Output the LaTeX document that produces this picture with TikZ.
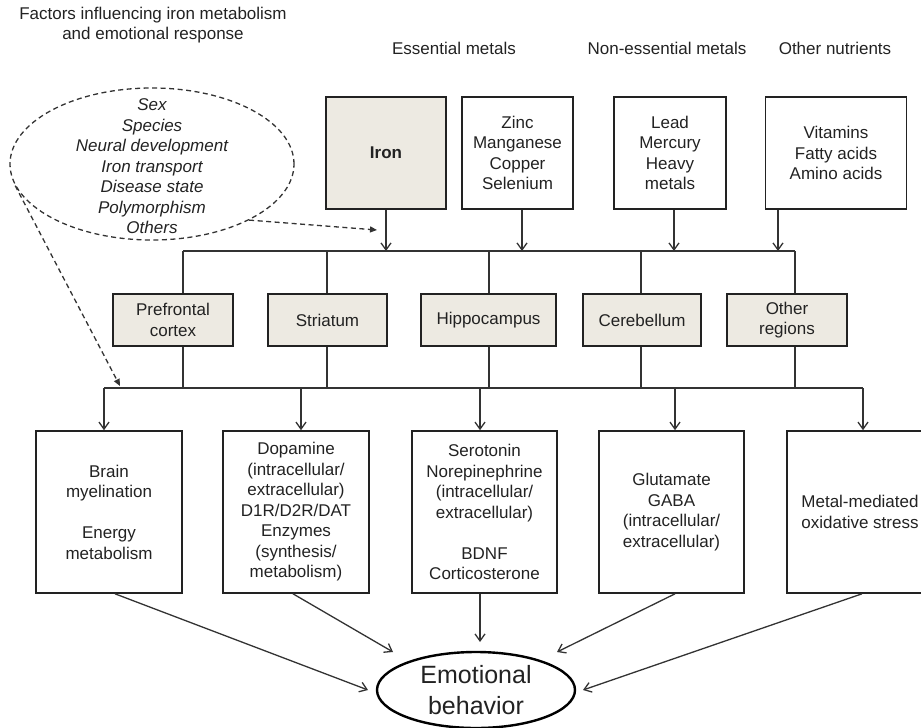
\documentclass[tikz,border=0pt]{standalone}
\usepackage{fontspec}
\setmainfont{Liberation Sans}
\usetikzlibrary{shapes.geometric,arrows.meta}
\definecolor{boxfill}{HTML}{EDEAE2}
\definecolor{ink}{HTML}{222222}
\definecolor{wirec}{HTML}{333333}
\begin{document}
\begin{tikzpicture}[x=1pt,y=-1pt,
  txt/.style={font=\fontsize{17}{20.5}\selectfont, text=ink, align=center},
  box/.style={txt, draw=ink, line width=1.6pt, rectangle, inner sep=0pt},
  shaded/.style={box, fill=boxfill},
  wire/.style={draw=wirec, line width=1.3pt},
  arr/.style={wire, -{Straight Barb[length=7pt,width=10pt]}},
  dasharrow/.style={wire, dash pattern=on 5pt off 3.5pt, -{Triangle[length=7pt,width=6pt]}}
]
\useasboundingbox (0,0) rectangle (921,728);

% titles
\node[txt] (title) at (153,25) {Factors influencing iron metabolism\\and emotional response};
\node[txt] (h1) at (454,48) {Essential metals};
\node[txt] (h2) at (667,48) {Non-essential metals};
\node[txt] (h3) at (835,48) {Other nutrients};

% factors ellipse
\node[draw=wirec, ellipse, line width=1.3pt, dash pattern=on 5pt off 3.5pt,
      minimum width=284pt, minimum height=152pt, inner sep=0pt] (fac) at (152,164) {};
\node[txt, font=\fontsize{17}{20.5}\selectfont\itshape] (factxt) at (152,166.5)
  {Sex\\Species\\Neural development\\Iron transport\\Disease state\\Polymorphism\\Others};

% top boxes
\node[shaded, minimum width=120pt, minimum height=112pt, font=\fontsize{17}{20.5}\selectfont\bfseries] (iron) at (386,153) {Iron};
\node[box, minimum width=111pt, minimum height=112pt] (zinc) at (517.5,153) {Zinc\\Manganese\\Copper\\Selenium};
\node[box, minimum width=112pt, minimum height=112pt] (lead) at (670,153) {Lead\\Mercury\\Heavy\\metals};
\node[box, minimum width=141pt, minimum height=112pt] (vit) at (836,153) {Vitamins\\Fatty acids\\Amino acids};

% region boxes
\node[shaded, minimum width=120pt, minimum height=52pt] (pfc) at (173,320) {Prefrontal\\cortex};
\node[shaded, minimum width=119pt, minimum height=52pt] (str) at (327.5,320) {Striatum};
\node[shaded, minimum width=135pt, minimum height=52pt] (hip) at (488.5,320) {Hippocampus};
\node[shaded, minimum width=118pt, minimum height=52pt] (cer) at (642,320) {Cerebellum};
\node[shaded, minimum width=120pt, minimum height=52pt] (oth) at (787,320) {Other\\regions};

% bottom boxes
\node[box, minimum width=146pt, minimum height=162pt] (bx1) at (109,512) {Brain\\myelination\\[20.5pt]Energy\\metabolism};
\node[box, minimum width=146pt, minimum height=162pt] (bx2) at (296,512) {Dopamine\\(intracellular/\\extracellular)\\D1R/D2R/DAT\\Enzymes\\(synthesis/\\metabolism)};
\node[box, minimum width=145pt, minimum height=162pt] (bx3) at (484.5,512) {Serotonin\\Norepinephrine\\(intracellular/\\extracellular)\\[20.5pt]BDNF\\Corticosterone};
\node[box, minimum width=145pt, minimum height=162pt] (bx4) at (671.5,512) {Glutamate\\GABA\\(intracellular/\\extracellular)};
\node[box, minimum width=146pt, minimum height=162pt] (bx5) at (860,512) {Metal-mediated\\oxidative stress};

% emotional behavior
\node[draw=black, ellipse, line width=2.4pt, minimum width=198pt, minimum height=76pt, inner sep=0pt,
      font=\fontsize{25}{31}\selectfont, text=ink, align=center] (emo) at (476,690) {Emotional\\behavior};

% top junctions
\coordinate (t1) at (183,251);
\coordinate (t2) at (327,251);
\coordinate (t3) at (489,251);
\coordinate (t4) at (641,251);
\coordinate (t5) at (795,251);
\coordinate (ja) at (386,251);
\coordinate (jb) at (522,251);
\coordinate (jc) at (674,251);
\coordinate (jd) at (778,251);

\draw[arr] (ja |- iron.south) -- (ja);
\draw[arr] (jb |- zinc.south) -- (jb);
\draw[arr] (jc |- lead.south) -- (jc);
\draw[arr] (jd |- vit.south) -- (jd);
\draw[wire] (t1) -- (t5);
\draw[wire] (t1) -- (t1 |- pfc.north);
\draw[wire] (t2) -- (t2 |- str.north);
\draw[wire] (t3) -- (t3 |- hip.north);
\draw[wire] (t4) -- (t4 |- cer.north);
\draw[wire] (t5) -- (t5 |- oth.north);

% lower junctions
\coordinate (b1) at (104,388);
\coordinate (b2) at (301,388);
\coordinate (b3) at (480,388);
\coordinate (b4) at (675,388);
\coordinate (b5) at (863,388);
\draw[wire] (b1) -- (b5);
\draw[wire] (t1 |- pfc.south) -- (t1 |- b1);
\draw[wire] (t2 |- str.south) -- (t2 |- b1);
\draw[wire] (t3 |- hip.south) -- (t3 |- b1);
\draw[wire] (t4 |- cer.south) -- (t4 |- b1);
\draw[wire] (t5 |- oth.south) -- (t5 |- b1);
\draw[arr] (b1) -- (b1 |- bx1.north);
\draw[arr] (b2) -- (b2 |- bx2.north);
\draw[arr] (b3) -- (b3 |- bx3.north);
\draw[arr] (b4) -- (b4 |- bx4.north);
\draw[arr] (b5) -- (b5 |- bx5.north);

% dashed arrows from factors
\coordinate (d1) at (377,230);
\coordinate (d2) at (120,386);
\draw[dasharrow] (fac.330.3) -- (d1);
\draw[dasharrow] (fac.189.4) -- (d2);

% arrows to emotional behavior
\coordinate (e1) at (368,690);
\coordinate (e2) at (393,652);
\coordinate (e3) at (480,642);
\coordinate (e4) at (557,652);
\coordinate (e5) at (583,690);
\draw[arr] ([xshift=6pt]bx1.south) -- (e1);
\draw[arr] ([xshift=-3pt]bx2.south) -- (e2);
\draw[arr] (e3 |- bx3.south) -- (e3);
\draw[arr] ([xshift=3.5pt]bx4.south) -- (e4);
\draw[arr] ([xshift=2pt]bx5.south) -- (e5);
\end{tikzpicture}
\end{document}
